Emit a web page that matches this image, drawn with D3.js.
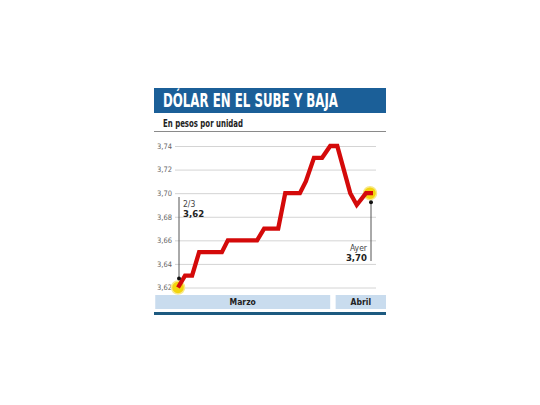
<!DOCTYPE html>
<html>
<head>
<meta charset="utf-8">
<script src="https://cdn.jsdelivr.net/npm/d3@7"></script>
<style>
  body { margin: 0; background: #fff; }
  text { font-family: "Liberation Sans Narrow", "DejaVu Sans Condensed", "Liberation Sans", sans-serif; }
</style>
</head>
<body>
<svg width="540" height="405"></svg>
<script>
// datos: dias desde el 2/3 y cotizacion
var dias    = [0, 1.3, 2.6, 3.9, 8.1, 9.2, 14.6, 15.9, 18.5, 19.8, 22.5, 23.6, 25.1, 26.6, 28.1, 29.4, 31.8, 33.0, 34.7, 36];
var valores = [3.62, 3.63, 3.63, 3.65, 3.65, 3.66, 3.66, 3.67, 3.67, 3.70, 3.70, 3.71, 3.73, 3.73, 3.74, 3.74, 3.70, 3.69, 3.70, 3.70];
var ticks   = [3.62, 3.64, 3.66, 3.68, 3.70, 3.72, 3.74];
var meses   = ["Marzo", "Abril"];
var mesDesde = [-4.2, 29.1];
var mesHasta = [28.1, 38.4];
var titulo = "DÓLAR EN EL SUBE Y BAJA";
var subtitulo = "En pesos por unidad";
var etiquetaInicio = ["2/3", "3,62"];
var etiquetaFin = ["Ayer", "3,70"];

var svg = d3.select("svg");

var x = d3.scaleLinear().domain([0, 36]).range([178, 373]);
var y = d3.scaleLinear().domain([3.62, 3.74]).range([287.5, 146]);

var coma = d3.formatLocale({decimal: ",", thousands: ".", grouping: [3], currency: ["$", ""]}).format(".2f");

// titulo
svg.append("rect")
    .attr("x", 154).attr("y", 88)
    .attr("width", 232).attr("height", 25)
    .attr("fill", "#1b5f98");
svg.append("text")
    .attr("x", 163).attr("y", 107)
    .attr("fill", "#fff")
    .attr("font-size", 19)
    .attr("font-weight", "bold")
    .attr("textLength", 175)
    .attr("lengthAdjust", "spacingAndGlyphs")
    .text(titulo);

svg.append("text")
    .attr("x", 163).attr("y", 127)
    .attr("fill", "#222")
    .attr("font-size", 11)
    .attr("font-weight", "bold")
    .attr("textLength", 80)
    .attr("lengthAdjust", "spacingAndGlyphs")
    .text(subtitulo);
svg.append("line")
    .attr("x1", 154).attr("x2", 386)
    .attr("y1", 131.5).attr("y2", 131.5)
    .attr("stroke", "#8a8a8a");

// grilla y etiquetas del eje
var yAxis = svg.append("g")
    .attr("transform", "translate(175,0)")
    .call(d3.axisLeft(y).tickValues(ticks).tickSize(-201).tickFormat(coma));
yAxis.select(".domain").remove();
yAxis.selectAll(".tick line").attr("stroke", "#d4d4d4");
yAxis.selectAll(".tick text")
    .attr("x", -18)
    .attr("text-anchor", "start")
    .attr("dy", "0.32em")
    .attr("fill", "#666")
    .attr("font-size", 7.5);

// bandas de meses
var bandas = svg.append("g");
meses.forEach(function(m, i) {
    bandas.append("rect")
        .attr("x", x(mesDesde[i])).attr("y", 295)
        .attr("width", x(mesHasta[i]) - x(mesDesde[i])).attr("height", 14)
        .attr("fill", "#c9dcee");
    bandas.append("text")
        .attr("x", (x(mesDesde[i]) + x(mesHasta[i])) / 2).attr("y", 305)
        .attr("text-anchor", "middle")
        .attr("font-size", 8.5)
        .attr("font-weight", "bold")
        .attr("fill", "#222")
        .text(m);
});
svg.append("rect")
    .attr("x", 154).attr("y", 312)
    .attr("width", 232).attr("height", 3)
    .attr("fill", "#1d5a80");

// circulos amarillos en extremos
var n = dias.length - 1;
[0, n].forEach(function(i) {
    svg.append("circle")
        .attr("cx", x(dias[i]) + (i == 0 ? 0 : -3)).attr("cy", y(valores[i]))
        .attr("r", 6.5)
        .attr("fill", "#f3d50e")
        .attr("stroke", "#f8e98a")
        .attr("stroke-width", 1.5);
});

// linea
var linea = d3.line()
    .x(function(d, i) { return x(dias[i]); })
    .y(function(d) { return y(d); });
svg.append("path")
    .datum(valores)
    .attr("d", linea)
    .attr("fill", "none")
    .attr("stroke", "#d40a0a")
    .attr("stroke-width", 4.3)
    .attr("stroke-linejoin", "miter");

// llamadas
var x0 = x(dias[0]) + 1, yIni = y(valores[0]) - 9;
svg.append("line")
    .attr("x1", x0).attr("x2", x0)
    .attr("y1", 197).attr("y2", yIni)
    .attr("stroke", "#555");
svg.append("circle").attr("cx", x0).attr("cy", yIni).attr("r", 2).attr("fill", "#111");
svg.append("text")
    .attr("x", x0 + 4).attr("y", 207)
    .attr("font-size", 8.5).attr("fill", "#444")
    .text(etiquetaInicio[0]);
svg.append("text")
    .attr("x", x0 + 4).attr("y", 216.5)
    .attr("font-size", 9.5).attr("font-weight", "bold").attr("fill", "#222")
    .text(etiquetaInicio[1]);

var x1 = x(dias[n]) - 2, yFin = y(valores[n]) + 9;
svg.append("line")
    .attr("x1", x1).attr("x2", x1)
    .attr("y1", yFin).attr("y2", 261)
    .attr("stroke", "#555");
svg.append("circle").attr("cx", x1).attr("cy", yFin).attr("r", 2).attr("fill", "#111");
svg.append("text")
    .attr("x", x1 - 4).attr("y", 251)
    .attr("text-anchor", "end")
    .attr("font-size", 8.5).attr("fill", "#444")
    .text(etiquetaFin[0]);
svg.append("text")
    .attr("x", x1 - 4).attr("y", 261)
    .attr("text-anchor", "end")
    .attr("font-size", 9.5).attr("font-weight", "bold").attr("fill", "#222")
    .text(etiquetaFin[1]);
</script>
</body>
</html>
